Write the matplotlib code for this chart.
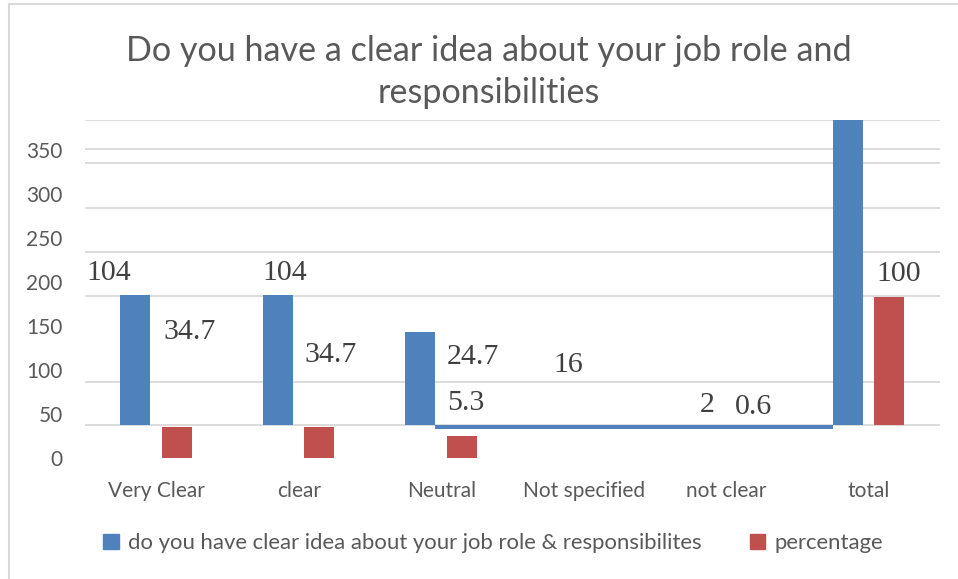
import numpy as np
import matplotlib
matplotlib.use('Agg')
import matplotlib.pyplot as plt
from matplotlib.lines import Line2D
from matplotlib.patches import Patch

# data
categories = ['Very Clear', 'clear', 'Neutral', 'Not specified', 'not clear', 'total']
counts = [104, 104, 74, 16, 2, 300]
percentage = [34.7, 34.7, 24.7, 5.3, 0.6, 100]
ytick_labels = ['0', '50', '100', '150', '200', '250', '300', '350']

# label positions (x in category units, y in axis units) - the source render is scrambled
count_label_pos = [(-0.33, 210), (0.90, 210), None, (2.89, 106), (3.865, 60), None]
pct_label_pos = [(0.237, 143), (1.226, 117), (2.223, 115), (2.174, 62.5), (4.188, 58), (5.212, 209)]

blue = '#4f81bd'
red = '#c0504d'
grid_c = '#d9d9d9'
txt_c = '#595959'
W, H = 958, 579

fig = plt.figure(figsize=(W / 100, H / 100), dpi=100)
ax_bottom_px, ax_top_px = 460, 120
ax = fig.add_axes([85 / W, 1 - ax_bottom_px / H, (940 - 85) / W, (ax_bottom_px - ax_top_px) / H])

base = 38.0
k = 1.42
bw = 0.21
x = np.arange(len(categories))

# gridlines as they came out in the original picture
for g in [383.5, 351.1, 335.2, 284.1, 234.1, 184.1, 86.4, 37.5]:
    ax.axhline(g, color=grid_c, lw=1.3, zorder=0)

# blue series
shown_blue = [0, 1, 2, 5]
ax.bar(x[shown_blue] - 0.147, np.array(counts)[shown_blue] * k, bw, bottom=base,
       color=blue, zorder=2)
# collapsed strip of the small categories
left = x[2] - 0.147 + bw / 2
right = x[5] - 0.147 - bw / 2
ax.barh(base - 2.8, right - left, height=5.6, left=left, color=blue, zorder=2)

# red series
ax.bar(x[:3] + 0.145, percentage[:3], bw, bottom=0, color=red, zorder=2)
ax.bar(x[5] + 0.145, percentage[5] * 1.45, bw, bottom=base, color=red, zorder=2)

# data labels
for v, p in zip(counts, count_label_pos):
    if p is not None:
        ax.text(p[0], p[1], str(v), ha='center', va='center', fontsize=21.5,
                family='Liberation Serif', color='#404040')
for v, p in zip(percentage, pct_label_pos):
    ax.text(p[0], p[1], str(v), ha='center', va='center', fontsize=21.5,
            family='Liberation Serif', color='#404040')

ax.set_xlim(-0.5, 5.5)
ax.set_ylim(-2.3, 384)
ax.set_xticks(x)
ax.set_xticklabels(categories, family='Lato', fontsize=15, color=txt_c)
ax.set_yticks(np.arange(0, 351, 50))
ax.set_yticklabels(ytick_labels, family='Lato', fontsize=15, color=txt_c)
ax.tick_params(axis='both', length=0)
ax.tick_params(axis='x', pad=15)
ax.tick_params(axis='y', pad=16)
for s in ax.spines.values():
    s.set_visible(False)

fig.text(489 / W, 1 - 72 / H, 'Do you have a clear idea about your job role and\nresponsibilities',
         ha='center', va='center', family='Lato', fontsize=24.6,
         color=txt_c, linespacing=1.42)

handles = [Patch(color=blue), Patch(color=red)]
fig.legend(handles, ['do you have clear idea about your job role & responsibilites', 'percentage'],
           loc='center', bbox_to_anchor=(493 / W, 1 - 543 / H), ncol=2, frameon=False,
           prop={'family': 'Lato', 'size': 15.9}, labelcolor=txt_c,
           handlelength=0.7, handleheight=0.7, handletextpad=0.4, columnspacing=2.2)

# chart border
fig.add_artist(Line2D([8.5 / W, 1], [1 - 4 / H, 1 - 4 / H], color=grid_c, lw=1.5))
fig.add_artist(Line2D([8.5 / W, 8.5 / W], [0, 1 - 4 / H], color=grid_c, lw=1.5))

plt.savefig('out.png', dpi=100)
